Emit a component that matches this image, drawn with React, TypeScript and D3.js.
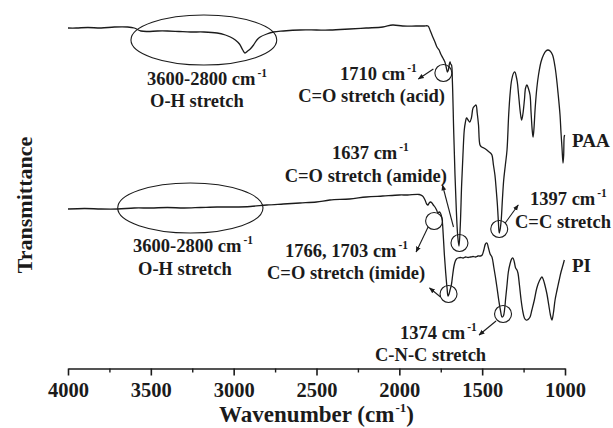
import React, { useEffect, useRef } from "react";
import * as d3 from "d3";

// FTIR spectra: wavenumber (cm^-1) and transmittance (arbitrary units, offset traces)
const paaWavenumber = [
  4000, 3950, 3880, 3800, 3720, 3640, 3600, 3560, 3520, 3460, 3400, 3330, 3260, 3180, 3100,
  3050, 3020, 2990, 2965, 2945, 2932, 2915, 2900, 2880, 2860, 2840, 2800, 2760, 2700, 2600,
  2500, 2419, 2300, 2200, 2100, 2040, 1980, 1900, 1850, 1827, 1815, 1803, 1785, 1773, 1760,
  1750, 1737, 1725, 1716, 1710, 1704, 1698, 1694, 1690, 1685, 1680, 1672, 1664, 1656, 1648,
  1640, 1632, 1624, 1616, 1608, 1602, 1594, 1585, 1575, 1565, 1555, 1545, 1537, 1530, 1522,
  1513, 1503, 1490, 1480, 1465, 1450, 1441, 1432, 1423, 1415, 1408, 1402, 1397, 1392, 1385,
  1378, 1370, 1360, 1350, 1340, 1332, 1322, 1310, 1302, 1295, 1288, 1280, 1270, 1262, 1255,
  1245, 1238, 1230, 1220, 1211, 1205, 1198, 1193, 1188, 1180, 1170, 1160, 1145, 1130, 1115,
  1103, 1090, 1075, 1060, 1050, 1042, 1030, 1024, 1018, 1012, 1008, 1005, 1002,
];
const paaTransmittance = [
  342, 342, 342.5, 342, 343, 343, 342, 339, 338.5, 339, 339, 338.5, 338, 338, 337,
  335, 333, 330, 326, 320, 317, 319, 321, 325, 330, 333, 336, 338, 339, 340,
  340, 340, 341, 342, 343, 345, 344, 344, 344, 344, 340, 335, 328, 323, 320,
  316, 312, 308, 302, 298, 300, 306, 308, 306, 305, 290, 240, 195, 160, 135,
  124, 145, 185, 215, 240, 247, 252, 250, 248, 252, 262, 264, 265, 257, 245,
  225, 223, 222, 221, 219, 217, 215, 205, 195, 180, 165, 148, 137, 140, 150,
  170, 190, 205, 220, 255, 275, 290, 297, 298, 294, 288, 275, 258, 250, 255,
  270, 282, 285, 281, 275, 258, 240, 233, 240, 262, 282, 295, 308, 315, 319,
  320, 319, 315, 303, 290, 277, 255, 237, 222, 207, 215, 233, 235,
];

const piWavenumber = [
  4000, 3900, 3800, 3700, 3600, 3500, 3400, 3300, 3200, 3100, 3000, 2900, 2800, 2700, 2600,
  2500, 2419, 2300, 2200, 2100, 2000, 1950, 1880, 1860, 1845, 1835, 1827, 1820, 1812, 1803,
  1795, 1785, 1775, 1767, 1760, 1752, 1743, 1735, 1728, 1720, 1712, 1706, 1700, 1694, 1686,
  1678, 1670, 1662, 1655, 1646, 1630, 1615, 1600, 1585, 1570, 1555, 1540, 1525, 1510, 1500,
  1490, 1480, 1471, 1462, 1452, 1441, 1430, 1420, 1411, 1400, 1390, 1380, 1372, 1365, 1358,
  1350, 1342, 1332, 1322, 1314, 1306, 1298, 1290, 1284, 1275, 1265, 1254, 1245, 1235, 1228,
  1220, 1211, 1200, 1185, 1170, 1155, 1139, 1130, 1120, 1109, 1098, 1088, 1079, 1070, 1060,
  1048, 1035, 1024, 1012, 1004,
];
const piTransmittance = [
  161, 161.5, 161, 161, 162, 162, 162.5, 162, 162.5, 163, 163, 163.5, 165, 166, 167,
  168, 170, 171, 173, 174, 175, 175, 175.5, 174, 170, 166, 165, 167, 168, 167,
  165, 163, 160, 157, 158, 157, 152, 135, 115, 97, 82, 74, 76, 80, 85,
  95, 104, 109, 111, 112, 112.5, 112, 113, 112.5, 113, 113.5, 113, 114, 114, 115,
  120, 126, 127, 122, 116, 113, 103, 93, 83, 70, 60, 53, 54, 60, 72,
  85, 98, 106, 111, 112, 108, 102, 100, 97, 85, 70, 58, 52, 50, 50,
  51, 53, 60, 70, 82, 89, 93, 90, 84, 76, 65, 55, 50, 57, 70,
  80, 90, 98, 105, 110,
];

// Axis ticks
const majorTicks = [4000, 3500, 3000, 2500, 2000, 1500, 1000];
const minorTicks = [3750, 3250, 2750, 2250, 1750, 1250];

// Band assignments: circled band (wavenumber, transmittance) with its label
const bandIds = ["paa1710", "paa1637", "paa1397", "pi1766", "pi1703", "pi1374"];
const bandWavenumbers = [1710, 1637, 1397, 1766, 1703, 1374];
const bandTransmittance = [297, 127, 141, 149, 76, 56];
const bandPositions = ["1710", "1637", "1397", "1766, 1703", "", "1374"];
const bandModes = ["C=O stretch (acid)", "C=O stretch (amide)", "C=C stretch", "C=O stretch (imide)", "", "C-N-C stretch"];

// O-H stretch regions (wavenumber span, transmittance at centre)
const ohSpanStart = [3620, 3700];
const ohSpanEnd = [2740, 2823];
const ohCentre = [330, 162];

const seriesNames = ["PAA", "PI"];

const W = 613;
const H = 428;
const FONT = "'Liberation Serif', 'Times New Roman', serif";
const INK = "#1b1b1b";
const LABEL_SIZE = 18.5;

const xScale = d3.scaleLinear().domain([4000, 1000]).range([68, 565]);
const yScale = d3.scaleLinear().domain([0, 350]).range([370, 20]);
const AXIS_Y = 368.5;

// Layout of each band callout, in pixels relative to circle centre / absolute for text
const calloutLayout: Record<string, any> = {
  paa1710: { dx: -4, arrow: [-10, -4, -25, 6], pos: { x: 340, y: 80, anchor: "start" }, mode: { x: 445, y: 102, anchor: "end" } },
  paa1637: { dx: 0, arrow: [-6, -16, -17, -58], pos: { x: 332, y: 159, anchor: "start" }, mode: { x: 447, y: 182, anchor: "end" } },
  paa1397: { dx: 0, arrow: [6, -6, 19, -24], pos: { x: 530, y: 205, anchor: "start" }, mode: { x: 515, y: 228, anchor: "start" } },
  pi1766: { dx: -4, arrow: [-6, 6, -18, 31], pos: { x: 285, y: 257, anchor: "start" }, mode: { x: 267, y: 279, anchor: "start" } },
  pi1703: { dx: 0, arrow: [-8, 3, -19, -6], pos: null, mode: null },
  pi1374: { dx: 0, arrow: [-7, 7, -24, 21], pos: { x: 400, y: 339, anchor: "start" }, mode: { x: 375, y: 361, anchor: "start" } },
};

const ohLabelLayout = [
  { x: 147, y: 85, x2: 150, y2: 107 },
  { x: 133, y: 252, x2: 138, y2: 275 },
];
const seriesLabelLayout = [
  { x: 572, y: 147 },
  { x: 572, y: 272 },
];

function WithInverseCm({ x, y, value, anchor, size = LABEL_SIZE }: any) {
  return (
    <text x={x} y={y} textAnchor={anchor} fontFamily={FONT} fontWeight="bold" fontSize={size} fill={INK}>
      {value} cm
      <tspan dx={2} dy={-8} fontSize={11.5}>-1</tspan>
    </text>
  );
}

export default function App() {
  const axisRef = useRef<SVGGElement>(null);
  const minorRef = useRef<SVGGElement>(null);

  useEffect(() => {
    if (axisRef.current) {
      const axis = d3
        .axisBottom(xScale)
        .tickValues(majorTicks)
        .tickSize(7)
        .tickSizeOuter(0)
        .tickPadding(7)
        .tickFormat((d) => String(d));
      const g = d3.select(axisRef.current);
      g.call(axis as any);
      g.select(".domain").attr("stroke", INK).attr("stroke-width", 1.6);
      g.selectAll(".tick line").attr("stroke", INK).attr("stroke-width", 1.6);
      g.selectAll(".tick text")
        .attr("font-family", FONT)
        .attr("font-weight", "bold")
        .attr("font-size", 20.5)
        .attr("fill", INK);
    }
    if (minorRef.current) {
      const minor = d3
        .axisBottom(xScale)
        .tickValues(minorTicks)
        .tickSize(4)
        .tickSizeOuter(0)
        .tickFormat(() => "");
      const g = d3.select(minorRef.current);
      g.call(minor as any);
      g.select(".domain").remove();
      g.selectAll(".tick line").attr("stroke", INK).attr("stroke-width", 1.4);
    }
  }, []);

  const line = d3
    .line<[number, number]>()
    .x((d) => xScale(d[0]))
    .y((d) => yScale(d[1]))
    .curve(d3.curveCatmullRom.alpha(0.5));

  const paaPoints = paaWavenumber.map((w, i) => [w, paaTransmittance[i]] as [number, number]);
  const piPoints = piWavenumber.map((w, i) => [w, piTransmittance[i]] as [number, number]);

  return (
    <svg
      width={W}
      height={H}
      style={{ position: "absolute", left: 0, top: 0, background: "#fff" }}
    >
      <defs>
        <marker id="head" viewBox="0 0 10 10" refX="9" refY="5" markerWidth="6" markerHeight="6" orient="auto" markerUnits="userSpaceOnUse">
          <path d="M0,1 L10,5 L0,9 Z" fill={INK} />
        </marker>
      </defs>

      {/* spectra */}
      <path d={line(paaPoints) || ""} fill="none" stroke={INK} strokeWidth={1.3} strokeLinejoin="round" />
      <path d={line(piPoints) || ""} fill="none" stroke={INK} strokeWidth={1.3} strokeLinejoin="round" />

      {/* O-H stretch regions */}
      {ohCentre.map((c, i) => {
        const x0 = xScale(ohSpanStart[i]);
        const x1 = xScale(ohSpanEnd[i]);
        return (
          <g key={"oh" + i}>
            <ellipse cx={(x0 + x1) / 2} cy={yScale(c)} rx={(x1 - x0) / 2} ry={25} fill="none" stroke={INK} strokeWidth={1.1} />
            <WithInverseCm x={ohLabelLayout[i].x} y={ohLabelLayout[i].y} value="3600-2800" anchor="start" />
            <text x={ohLabelLayout[i].x2} y={ohLabelLayout[i].y2} fontFamily={FONT} fontWeight="bold" fontSize={LABEL_SIZE} fill={INK}>
              O-H stretch
            </text>
          </g>
        );
      })}

      {/* band callouts */}
      {bandIds.map((id, i) => {
        const L = calloutLayout[id];
        const cx = xScale(bandWavenumbers[i]) + L.dx;
        const cy = yScale(bandTransmittance[i]);
        const [ax0, ay0, ax1, ay1] = L.arrow;
        return (
          <g key={id}>
            <circle cx={cx} cy={cy} r={8.5} fill="none" stroke={INK} strokeWidth={1.1} />
            <line x1={cx + ax0} y1={cy + ay0} x2={cx + ax1} y2={cy + ay1} stroke={INK} strokeWidth={1.1} markerEnd="url(#head)" />
            {L.pos && <WithInverseCm x={L.pos.x} y={L.pos.y} value={bandPositions[i]} anchor={L.pos.anchor} />}
            {L.mode && (
              <text x={L.mode.x} y={L.mode.y} textAnchor={L.mode.anchor} fontFamily={FONT} fontWeight="bold" fontSize={LABEL_SIZE} fill={INK}>
                {bandModes[i]}
              </text>
            )}
          </g>
        );
      })}

      {/* series names */}
      {seriesNames.map((n, i) => (
        <text key={n} x={seriesLabelLayout[i].x} y={seriesLabelLayout[i].y} fontFamily={FONT} fontWeight="bold" fontSize={19} fill={INK}>
          {n}
        </text>
      ))}

      {/* axes */}
      <g ref={axisRef} transform={`translate(0,${AXIS_Y})`} />
      <g ref={minorRef} transform={`translate(0,${AXIS_Y})`} />

      <text x={(xScale(4000) + xScale(1000)) / 2} y={422} textAnchor="middle" fontFamily={FONT} fontWeight="bold" fontSize={23} fill={INK}>
        Wavenumber (cm
        <tspan dx={1} dy={-10} fontSize={13}>-1</tspan>
        <tspan dy={10}>)</tspan>
      </text>
      <text transform="translate(32,205) rotate(-90)" textAnchor="middle" fontFamily={FONT} fontWeight="bold" fontSize={22} fill={INK}>
        Transmittance
      </text>
    </svg>
  );
}
